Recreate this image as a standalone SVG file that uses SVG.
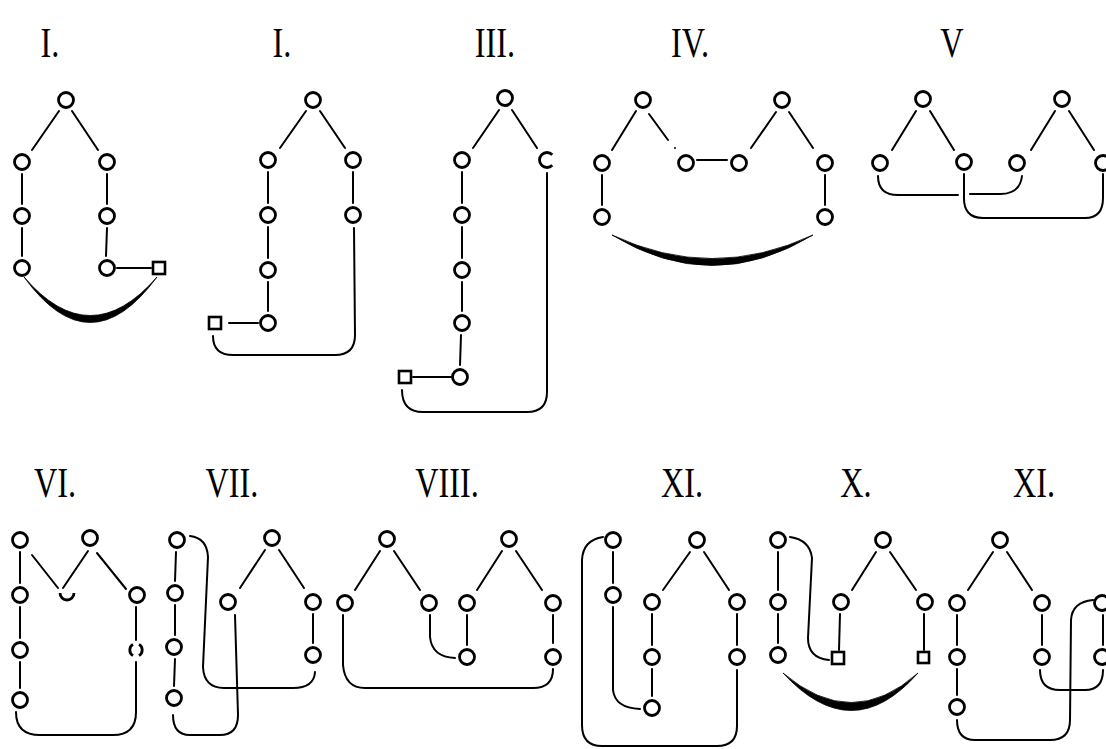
<svg xmlns="http://www.w3.org/2000/svg" width="1106" height="749" viewBox="0 0 1106 749">
<style>
.n{fill:none;stroke:#000;stroke-width:2.8}
.s{fill:none;stroke:#000;stroke-width:2.6}
.e{fill:none;stroke:#000;stroke-width:2;stroke-linecap:round}
.c{fill:#000;stroke:#000;stroke-width:0.8;stroke-linejoin:round}
.t{font-family:"Liberation Serif",serif;font-size:38px;text-anchor:middle;fill:#000}
</style>
<rect width="1106" height="749" fill="#fff"/>
<g id="titles">
<text class="t" transform="translate(50,57) scale(0.85,1.1)">I.</text>
<text class="t" transform="translate(282,57) scale(0.85,1.1)">I.</text>
<text class="t" transform="translate(495,57) scale(0.85,1.1)">III.</text>
<text class="t" transform="translate(690,57) scale(0.85,1.1)">IV.</text>
<text class="t" transform="translate(952,57) scale(0.85,1.1)">V</text>
<text class="t" transform="translate(55,497) scale(0.85,1.1)">VI.</text>
<text class="t" transform="translate(232,497) scale(0.85,1.1)">VII.</text>
<text class="t" transform="translate(447,497) scale(0.85,1.1)">VIII.</text>
<text class="t" transform="translate(682,497) scale(0.85,1.1)">XI.</text>
<text class="t" transform="translate(856,497) scale(0.85,1.1)">X.</text>
<text class="t" transform="translate(1034,497) scale(0.85,1.1)">XI.</text>
</g>
<g id="connectors">
<path class="e" d="M59,111L32,150M72,111L98,150M22,174L22,204M22,228L22,256M107,174L107,204M107,228L106,256M117,268L151,268"/>
<path class="c" d="M24,277Q90,368 157,277Q90,354 24,277Z"/>
<path class="e" d="M306,111L280,148M320,111L345,148M268,172L268,203M268,227L268,258M268,282L268,311M353,172L353,203M229,323L258,323"/>
<path class="e" d="M213,336Q213,355 233,355L335,355Q355,355 355,335L354,228"/>
<path class="e" d="M499,110L473,148M512,110L537,148M462,172L462,203M462,227L462,258M462,282L462,311M461,335L460,365M413,377L451,377"/>
<path class="e" d="M402,390Q402,412 423,412L527,412Q547,412 547,392L547,173"/>
<path class="e" d="M636,111L612,150M649,114L668,140M697,160L727,160M776,112L751,148M789,112L813,148M602,175L602,205M825,175L825,205"/>
<circle cx="675" cy="148" r="1" fill="#000"/>
<path class="c" d="M612,235Q712,296 813,235Q712,282 612,235Z"/>
<path class="e" d="M916,111L892,150M930,111L954,150M1055,111L1031,150M1069,111L1094,150"/>
<path class="e" d="M878,176Q878,195 898,195L958,195M970,194L1000,194Q1020,194 1022,176"/>
<path class="e" d="M964,174L964,196Q963,218 983,218L1085,218Q1103,218 1103,198L1103,174"/>
<path class="e" d="M32,555L58,588M88,551L63,588M97,553L126,589M20,552L20,583M20,607L20,638M20,662L20,688M136,607L136,640"/>
<path class="e" d="M16,712Q16,735 40,735L113,735Q136,735 136,712L136,662"/>
<path class="e" d="M176,552L175,581M175,605L175,635M175,659L174,686M265,550L240,588M279,550L304,588M313,614L313,643"/>
<path class="e" d="M190,536Q207,538 208,557L203,667Q204,688 224,688L293,688Q314,688 315,672"/>
<path class="e" d="M235,615L238,715Q238,735 220,735L190,735Q173,735 173,715"/>
<path class="e" d="M380,551L355,590M394,551L420,590M502,551L477,590M516,551L542,590M553,615L553,643M467,615L467,645"/>
<path class="e" d="M430,615L430,637Q432,657 455,658"/>
<path class="e" d="M343,615L343,665Q345,688 365,688L533,688Q553,688 553,669"/>
<path class="e" d="M613,552L613,583M690,552L663,590M704,552L729,590M652,614L652,645M652,669L652,696M737,614L737,645"/>
<path class="e" d="M613,607L613,690Q615,708 640,709"/>
<path class="e" d="M603,537Q583,540 582,560L582,725Q582,746 602,746L717,746Q737,746 737,726L737,670"/>
<path class="e" d="M778,552L778,590M778,614L778,643M876,552L852,590M890,552L916,590M840,614L839,650M924,614L924,650"/>
<path class="e" d="M790,537Q810,540 812,558L808,638Q808,658 829,660"/>
<path class="c" d="M783,673Q852,748 918,673Q852,732 783,673Z"/>
<path class="e" d="M993,552L968,590M1007,552L1032,590M957,615L957,645M957,669L957,695M1042,615L1042,645M1103,615L1103,645"/>
<path class="e" d="M1093,600Q1072,602 1071,620L1070,720Q1070,740 1050,740L975,740Q957,740 957,720"/>
<path class="e" d="M1040,670Q1040,690 1060,690L1085,690Q1103,690 1103,670"/>
</g>
<g id="d1"><circle class="n" cx="66" cy="100" r="7.5"/><circle class="n" cx="22" cy="162" r="7.5"/><circle class="n" cx="22" cy="216" r="7.5"/><circle class="n" cx="22" cy="268" r="7.5"/><circle class="n" cx="107" cy="162" r="7.5"/><circle class="n" cx="107" cy="216" r="7.5"/><circle class="n" cx="107" cy="268" r="7.5"/><rect class="s" x="153" y="262" width="12" height="12"/></g>
<g id="d2"><circle class="n" cx="313" cy="100" r="7.5"/><circle class="n" cx="268" cy="160" r="7.5"/><circle class="n" cx="268" cy="215" r="7.5"/><circle class="n" cx="268" cy="270" r="7.5"/><circle class="n" cx="268" cy="323" r="7.5"/><circle class="n" cx="353" cy="160" r="7.5"/><circle class="n" cx="353" cy="215" r="7.5"/><rect class="s" x="209" y="317" width="12" height="12"/></g>
<g id="d3"><circle class="n" cx="505" cy="98" r="7.5"/><circle class="n" cx="462" cy="160" r="7.5"/><circle class="n" cx="462" cy="215" r="7.5"/><circle class="n" cx="462" cy="270" r="7.5"/><circle class="n" cx="462" cy="323" r="7.5"/><circle class="n" cx="460" cy="377" r="7.5"/><path class="n" d="M552.3,154.7A7.5,7.5 0 1 0 552.3,165.3"/><rect class="s" x="399" y="371" width="12" height="12"/></g>
<g id="d4"><circle class="n" cx="643" cy="100" r="7.5"/><circle class="n" cx="782" cy="100" r="7.5"/><circle class="n" cx="602" cy="163" r="7.5"/><circle class="n" cx="686" cy="163" r="7.5"/><circle class="n" cx="739" cy="163" r="7.5"/><circle class="n" cx="825" cy="163" r="7.5"/><circle class="n" cx="602" cy="217" r="7.5"/><circle class="n" cx="825" cy="217" r="7.5"/></g>
<g id="d5"><circle class="n" cx="923" cy="99" r="7.5"/><circle class="n" cx="1062" cy="99" r="7.5"/><circle class="n" cx="880" cy="163" r="7.5"/><circle class="n" cx="964" cy="162" r="7.5"/><circle class="n" cx="1017" cy="163" r="7.5"/><circle class="n" cx="1103" cy="163" r="7.5"/></g>
<g id="d6"><circle class="n" cx="20" cy="540" r="7.5"/><circle class="n" cx="90" cy="538" r="7.5"/><circle class="n" cx="20" cy="595" r="7.5"/><circle class="n" cx="20" cy="650" r="7.5"/><circle class="n" cx="20" cy="700" r="7.5"/><path class="n" d="M60,593A7,7 0 0 0 74,593"/><circle class="n" cx="137" cy="595" r="7.5"/><path class="n" d="M133,644.4A6.5,6.5 0 0 0 133,655.6M139,644.4A6.5,6.5 0 0 1 139,655.6"/></g>
<g id="d7"><circle class="n" cx="177" cy="540" r="7.5"/><circle class="n" cx="175" cy="593" r="7.5"/><circle class="n" cx="174" cy="647" r="7.5"/><circle class="n" cx="174" cy="698" r="7.5"/><circle class="n" cx="272" cy="538" r="7.5"/><circle class="n" cx="228" cy="602" r="7.5"/><circle class="n" cx="313" cy="602" r="7.5"/><circle class="n" cx="313" cy="655" r="7.5"/></g>
<g id="d8"><circle class="n" cx="387" cy="539" r="7.5"/><circle class="n" cx="509" cy="539" r="7.5"/><circle class="n" cx="345" cy="603" r="7.5"/><circle class="n" cx="429" cy="603" r="7.5"/><circle class="n" cx="467" cy="603" r="7.5"/><circle class="n" cx="553" cy="603" r="7.5"/><circle class="n" cx="467" cy="657" r="7.5"/><circle class="n" cx="553" cy="657" r="7.5"/></g>
<g id="d9"><circle class="n" cx="613" cy="540" r="7.5"/><circle class="n" cx="697" cy="540" r="7.5"/><circle class="n" cx="613" cy="595" r="7.5"/><circle class="n" cx="652" cy="602" r="7.5"/><circle class="n" cx="737" cy="602" r="7.5"/><circle class="n" cx="652" cy="657" r="7.5"/><circle class="n" cx="737" cy="657" r="7.5"/><circle class="n" cx="652" cy="708" r="7.5"/></g>
<g id="d10"><circle class="n" cx="778" cy="540" r="7.5"/><circle class="n" cx="778" cy="602" r="7.5"/><circle class="n" cx="778" cy="655" r="7.5"/><circle class="n" cx="883" cy="540" r="7.5"/><circle class="n" cx="841" cy="602" r="7.5"/><circle class="n" cx="925" cy="602" r="7.5"/><rect class="s" x="832" y="652" width="12" height="12"/><rect class="s" x="918" y="652" width="11" height="11"/></g>
<g id="d11"><circle class="n" cx="1000" cy="540" r="7.5"/><circle class="n" cx="957" cy="603" r="7.5"/><circle class="n" cx="1042" cy="603" r="7.5"/><circle class="n" cx="1102" cy="603" r="7.5"/><circle class="n" cx="957" cy="657" r="7.5"/><circle class="n" cx="1042" cy="657" r="7.5"/><circle class="n" cx="1102" cy="657" r="7.5"/><circle class="n" cx="957" cy="707" r="7.5"/></g>
</svg>
